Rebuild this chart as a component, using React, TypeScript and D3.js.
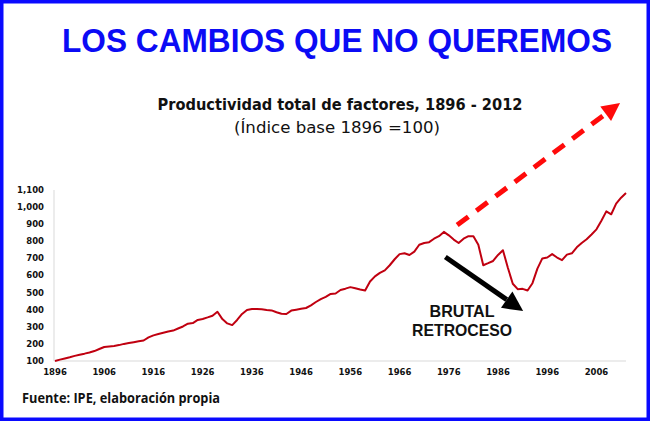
import React, { useEffect, useRef, useState } from "react";
import * as d3 from "d3";

const years: number[] = d3.range(1896, 2013);
const tfp: number[] = [
  100, 108, 115, 122, 130, 137, 143, 150, 158, 170,
  182, 185, 188, 193, 200, 205, 210, 215, 220, 238,
  250, 258, 265, 272, 278, 290, 302, 318, 322, 340,
  346, 355, 365, 388, 345, 320, 310, 340, 375, 398,
  404, 404, 402, 398, 396, 385, 376, 375, 395, 400,
  405, 410, 425, 445, 462, 475, 492, 495, 515, 523,
  532, 525, 518, 512, 565, 595, 615, 630, 660, 695,
  725, 730, 720, 740, 780, 790, 795, 815, 830, 855,
  835, 810, 790, 815, 830, 830, 780, 660, 672, 685,
  720, 748, 645, 552, 520, 522, 512, 555, 640, 700,
  705, 725, 705, 690, 722, 730, 765, 790, 812, 840,
  870, 920, 975, 958, 1020, 1055, 1082,
];
const xTicks: number[] = [1896, 1906, 1916, 1926, 1936, 1946, 1956, 1966, 1976, 1986, 1996, 2006];
const yTicks: number[] = [100, 200, 300, 400, 500, 600, 700, 800, 900, 1000, 1100];

const title = "LOS CAMBIOS QUE NO QUEREMOS";
const subtitle = "Productividad total de factores, 1896 - 2012";
const subtitle2 = "(Índice base 1896 =100)";
const source = "Fuente: IPE, elaboración propia";
const annotationLines = ["BRUTAL", "RETROCESO"];
// annotation arrows in data coordinates [year, value]
const trendArrow: [number, number][] = [[1977.7, 895], [2010.8, 1609]];
const fallArrow: [number, number][] = [[1975.3, 708], [1991.1, 392]];
const annotationAnchor: [number, number] = [1978.7, 357];
const annotationLineStep = 113;

const W = 650;
const H = 421;

function arrowHead(x1: number, y1: number, x2: number, y2: number, len: number, half: number) {
  const a = Math.atan2(y2 - y1, x2 - x1);
  const bx = x2 - len * Math.cos(a);
  const by = y2 - len * Math.sin(a);
  const px = -Math.sin(a) * half;
  const py = Math.cos(a) * half;
  return {
    points: `${x2},${y2} ${bx + px},${by + py} ${bx - px},${by - py}`,
    bx,
    by,
  };
}

export default function App() {
  const titleRef = useRef<SVGTextElement>(null);
  const [titleScale, setTitleScale] = useState(0.88);
  useEffect(() => {
    if (titleRef.current) {
      const len = titleRef.current.getComputedTextLength();
      if (len > 0) setTitleScale(550 / len);
    }
  }, []);

  const x = d3.scaleLinear().domain([1896, 2012]).range([55, 626]);
  const y = d3.scaleLinear().domain([100, 1100]).range([361, 190]);
  const data = years.map((yr, i) => [yr, tfp[i]] as [number, number]);
  const line = d3
    .line<[number, number]>()
    .x((d) => x(d[0]))
    .y((d) => y(d[1]));

  const fmt = d3.format(",");

  const t1 = [x(trendArrow[0][0]), y(trendArrow[0][1]), x(trendArrow[1][0]), y(trendArrow[1][1])];
  const h1 = arrowHead(t1[0], t1[1], t1[2], t1[3], 18, 9);
  const t2 = [x(fallArrow[0][0]), y(fallArrow[0][1]), x(fallArrow[1][0]), y(fallArrow[1][1])];
  const h2 = arrowHead(t2[0], t2[1], t2[2], t2[3], 20, 10);

  const ax = x(annotationAnchor[0]);
  const ay = y(annotationAnchor[1]);
  const lineStepPx = y(0) - y(annotationLineStep);

  return (
    <svg
      width={W}
      height={H}
      style={{ position: "absolute", left: 0, top: 0, background: "#fff" }}
    >
      <rect x={0} y={0} width={W} height={H} fill="#fff" />
      <rect x={1.75} y={1.75} width={W - 3.5} height={H - 3.5} fill="none" stroke="#0a0aff" strokeWidth={3.5} />

      <g transform={`translate(337,52) scale(${titleScale},1)`}>
        <text
          ref={titleRef}
          x={0}
          y={0}
          textAnchor="middle"
          fontFamily="'Liberation Sans', Arial, sans-serif"
          fontWeight={700}
          fontSize={34}
          fill="#0b0bf5"
        >
          {title}
        </text>
      </g>

      <text
        x={340}
        y={110}
        textAnchor="middle"
        fontFamily="'DejaVu Sans', sans-serif"
        fontWeight={700}
        fontSize={15}
        fill="#111"
        textLength={365}
        lengthAdjust="spacingAndGlyphs"
      >
        {subtitle}
      </text>
      <text
        x={337}
        y={133}
        textAnchor="middle"
        fontFamily="'DejaVu Sans', sans-serif"
        fontWeight={400}
        fontSize={15}
        fill="#111"
        textLength={206}
        lengthAdjust="spacingAndGlyphs"
      >
        {subtitle2}
      </text>

      {/* axes */}
      <line x1={x(1896) - 1} x2={x(1896) - 1} y1={y(1100)} y2={y(100)} stroke="#d9d9d9" strokeWidth={1} />
      <line x1={x(1896) - 1} x2={x(2012)} y1={y(100)} y2={y(100)} stroke="#d9d9d9" strokeWidth={1} />

      {yTicks.map((t) => (
        <text
          key={t}
          x={44}
          y={y(t)}
          dy="0.35em"
          textAnchor="end"
          fontFamily="'DejaVu Sans', sans-serif"
          fontWeight={700}
          fontSize={8.5}
          fill="#111"
        >
          {fmt(t)}
        </text>
      ))}
      {xTicks.map((t) => (
        <text
          key={t}
          x={x(t)}
          y={375}
          textAnchor="middle"
          fontFamily="'DejaVu Sans', sans-serif"
          fontWeight={700}
          fontSize={8.5}
          fill="#111"
        >
          {t}
        </text>
      ))}

      <path d={line(data) || ""} fill="none" stroke="#c00010" strokeWidth={2} strokeLinejoin="round" />

      {/* trend arrow */}
      <line
        x1={t1[0]}
        y1={t1[1]}
        x2={h1.bx}
        y2={h1.by}
        stroke="#ff0a0a"
        strokeWidth={5}
        strokeDasharray="14 10"
      />
      <polygon points={h1.points} fill="#ff0a0a" />

      {/* fall arrow */}
      <line x1={t2[0]} y1={t2[1]} x2={h2.bx} y2={h2.by} stroke="#000" strokeWidth={5} />
      <polygon points={h2.points} fill="#000" />

      {annotationLines.map((s, i) => (
        <text
          key={s}
          x={ax}
          y={ay + i * lineStepPx}
          textAnchor="middle"
          fontFamily="'Liberation Sans', Arial, sans-serif"
          fontWeight={700}
          fontSize={16.5}
          fill="#111"
          textLength={i === 0 ? 65 : 100}
          lengthAdjust="spacingAndGlyphs"
        >
          {s}
        </text>
      ))}

      <text
        x={22}
        y={403}
        fontFamily="'Open Sans', sans-serif"
        fontWeight={700}
        fontSize={13.5}
        fill="#111"
        textLength={198}
        lengthAdjust="spacingAndGlyphs"
      >
        {source}
      </text>
    </svg>
  );
}
